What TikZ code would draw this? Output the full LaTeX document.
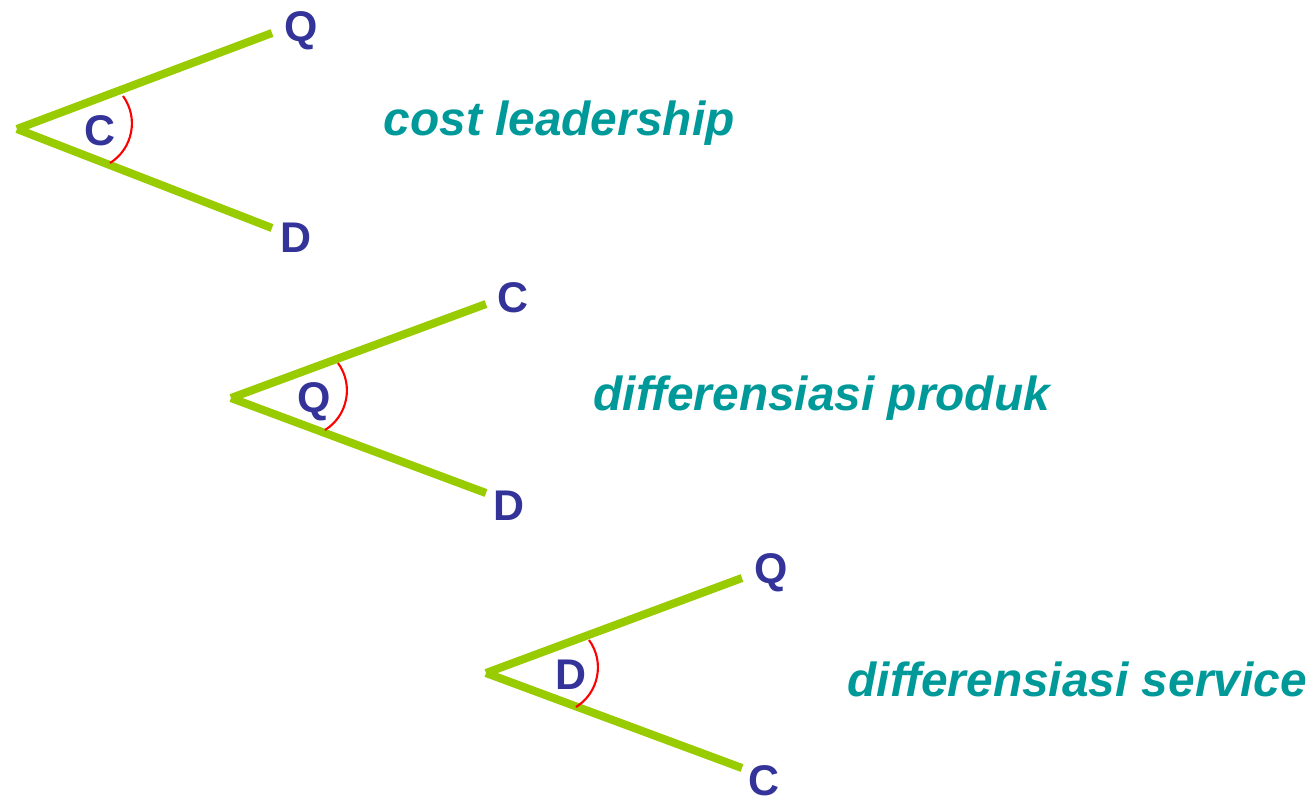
\documentclass[tikz,border=0pt]{standalone}
\usepackage{fontspec}
\setmainfont{Liberation Sans}
\usepackage{tikz}

\definecolor{legGreen}{RGB}{153,204,0}
\definecolor{letterBlue}{RGB}{51,51,153}
\definecolor{textTeal}{RGB}{0,153,153}

\begin{document}
\begin{tikzpicture}[x=0.01cm, y=-0.01cm,
leg_style/.style={draw=legGreen, line width=2.3pt},
arc_style/.style={draw=red, line width=0.6pt},
letter_style/.style={anchor=base, inner sep=0pt, text=letterBlue, font=\fontsize{12.2}{14}\selectfont\bfseries},
strategy_style/.style={anchor=base west, inner sep=0pt, text=textTeal, font=\fontsize{13.6}{16}\selectfont\bfseries\itshape}]
\useasboundingbox (0,0) rectangle (1316,799);

% cost leadership
\coordinate (v1) at (17,129);
\coordinate (v1up) at (272,33);
\coordinate (v1lo) at (272,228);
\draw[leg_style] (v1) -- (v1up);
\draw[leg_style] (v1) -- (v1lo);
\draw[arc_style] (123,96) .. controls (138.9,117.8) and (132.9,148.7) .. (110,163);
\node[letter_style] (q1) at (301,41) {Q};
\node[letter_style] (d1) at (296,252) {D};
\node[letter_style] (c1) at (100,145) {C};
\node[strategy_style] (s1) at (383,135) {cost leadership};

% differensiasi produk
\coordinate (v2) at (231,398);
\coordinate (v2up) at (486,304);
\coordinate (v2lo) at (486,493);
\draw[leg_style] (v2) -- (v2up);
\draw[leg_style] (v2) -- (v2lo);
\draw[arc_style] (338,363) .. controls (353.9,384.8) and (347.9,415.7) .. (325,430);
\node[letter_style] (c2) at (513,312) {C};
\node[letter_style] (d2) at (509,520) {D};
\node[letter_style] (q2) at (314,412) {Q};
\node[strategy_style] (s2) at (593,410) {differensiasi produk};

% differensiasi service
\coordinate (v3) at (486,673);
\coordinate (v3up) at (742,578);
\coordinate (v3lo) at (742,768);
\draw[leg_style] (v3) -- (v3up);
\draw[leg_style] (v3) -- (v3lo);
\draw[arc_style] (589,640) .. controls (604.9,661.8) and (598.9,692.7) .. (576,707);
\node[letter_style] (q3) at (771,583) {Q};
\node[letter_style] (d3) at (571,689) {D};
\node[letter_style] (c3) at (764,795) {C};
\node[strategy_style] (s3) at (847,696) {differensiasi service};
\end{tikzpicture}
\end{document}
